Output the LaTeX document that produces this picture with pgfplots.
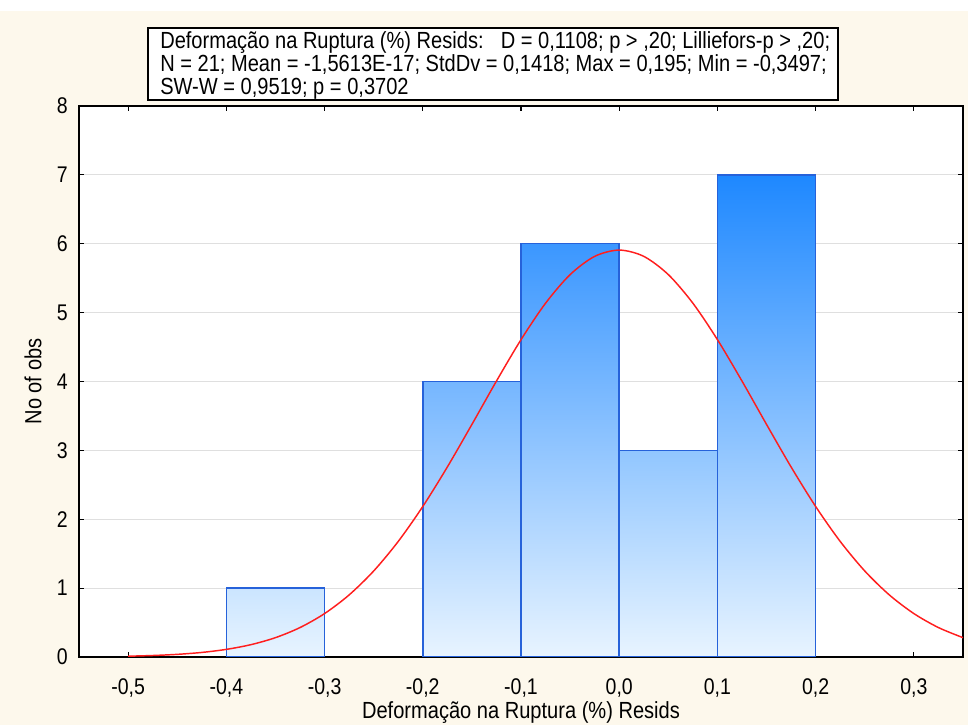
\documentclass[border=0pt]{standalone}
\usepackage{fontspec}
\setmainfont{Liberation Sans}[FakeStretch=0.86]
\usepackage{pgfplots}
\pgfplotsset{compat=1.18}
\definecolor{cream}{RGB}{253,248,236}
\definecolor{baredge}{RGB}{38,98,218}
\definecolor{czero}{RGB}{232,244,255}
\definecolor{cone}{RGB}{203,229,255}
\definecolor{cthree}{RGB}{145,198,255}
\definecolor{cfour}{RGB}{117,182,255}
\definecolor{csix}{RGB}{59,151,255}
\definecolor{cseven}{RGB}{30,136,255}
\definecolor{curvered}{RGB}{255,30,30}
\begin{document}
\begin{tikzpicture}
\useasboundingbox (0,0) rectangle (726pt,543.75pt);
\fill[cream] (0,0) rectangle (726pt,543.75pt);
\fill[white] (0,535.5pt) rectangle (726pt,543.75pt);
\begin{axis}[
  at={(59.25pt,51pt)}, anchor=south west,
  scale only axis, width=663pt, height=413.25pt,
  xmin=-0.55, xmax=0.35, ymin=0, ymax=8,
  axis background/.style={fill=white},
  axis line style={black, line width=1pt},
  xtick={-0.5,-0.4,-0.3,-0.2,-0.1,0,0.1,0.2,0.3},
  xticklabels={{-0,5},{-0,4},{-0,3},{-0,2},{-0,1},{0,0},{0,1},{0,2},{0,3}},
  ytick={0,1,2,3,4,5,6,7,8},
  tick align=inside, major tick length=4pt,
  tick style={black, line width=0.8pt},
  ymajorgrids, grid style={gray!25, line width=0.8pt},
  /pgf/number format/assume math mode=true,
  ticklabel style={font=\fontsize{17}{19}\selectfont, text=black},
  xticklabel style={yshift=-13pt},
  yticklabel style={xshift=-5pt},
  xlabel={Deformação na Ruptura (\%) Resids},
  ylabel={No of obs},
  label style={font=\fontsize{17.5}{19}\selectfont, text=black},
  xlabel style={at={(axis description cs:0.5,-0.101)}, anchor=center},
  ylabel style={at={(axis description cs:-0.052,0.5)}, anchor=center},
]
\addplot[ybar interval, draw=baredge, line width=1.1pt, bottom color=czero, top color=cone] coordinates {(-0.4,1) (-0.3,1)};
\addplot[ybar interval, draw=baredge, line width=1.1pt, bottom color=czero, top color=cfour] coordinates {(-0.2,4) (-0.1,4)};
\addplot[ybar interval, draw=baredge, line width=1.1pt, bottom color=czero, top color=csix] coordinates {(-0.1,6) (0,6)};
\addplot[ybar interval, draw=baredge, line width=1.1pt, bottom color=czero, top color=cthree] coordinates {(0,3) (0.1,3)};
\addplot[ybar interval, draw=baredge, line width=1.1pt, bottom color=czero, top color=cseven] coordinates {(0.1,7) (0.2,7)};
\addplot[curvered, line width=1.1pt, smooth, no marks] coordinates {
(-0.5,0.0118) (-0.475,0.0216) (-0.45,0.0384) (-0.425,0.0662) (-0.4,0.1106)
(-0.375,0.1790) (-0.35,0.2808) (-0.325,0.4273) (-0.3,0.6303) (-0.275,0.9011)
(-0.25,1.2486) (-0.225,1.6777) (-0.2,2.1850) (-0.175,2.7587) (-0.15,3.3765)
(-0.125,4.0060) (-0.1,4.6072) (-0.075,5.1368) (-0.05,5.5519) (-0.025,5.8169)
(0,5.908) (0.025,5.8169) (0.05,5.5519) (0.075,5.1368) (0.1,4.6072)
(0.125,4.0060) (0.15,3.3765) (0.175,2.7587) (0.2,2.1850) (0.225,1.6777)
(0.25,1.2486) (0.275,0.9011) (0.3,0.6303) (0.325,0.4273) (0.35,0.2808)
};
\end{axis}
\draw[black, line width=1.1pt, fill=white] (111pt,468.75pt) rectangle (628.5pt,522.75pt);
\node[anchor=north west, align=left, inner sep=0pt, font=\fontsize{17.5}{17.25}\selectfont, text=black] at (120pt,520.5pt)
{Deformação na Ruptura (\%) Resids:\enspace\ D = 0,1108; p > ,20; Lilliefors-p > ,20;\\
N = 21; Mean = -1,5613E-17; StdDv = 0,1418; Max = 0,195; Min = -0,3497;\\
SW-W = 0,9519; p = 0,3702};
\end{tikzpicture}
\end{document}
